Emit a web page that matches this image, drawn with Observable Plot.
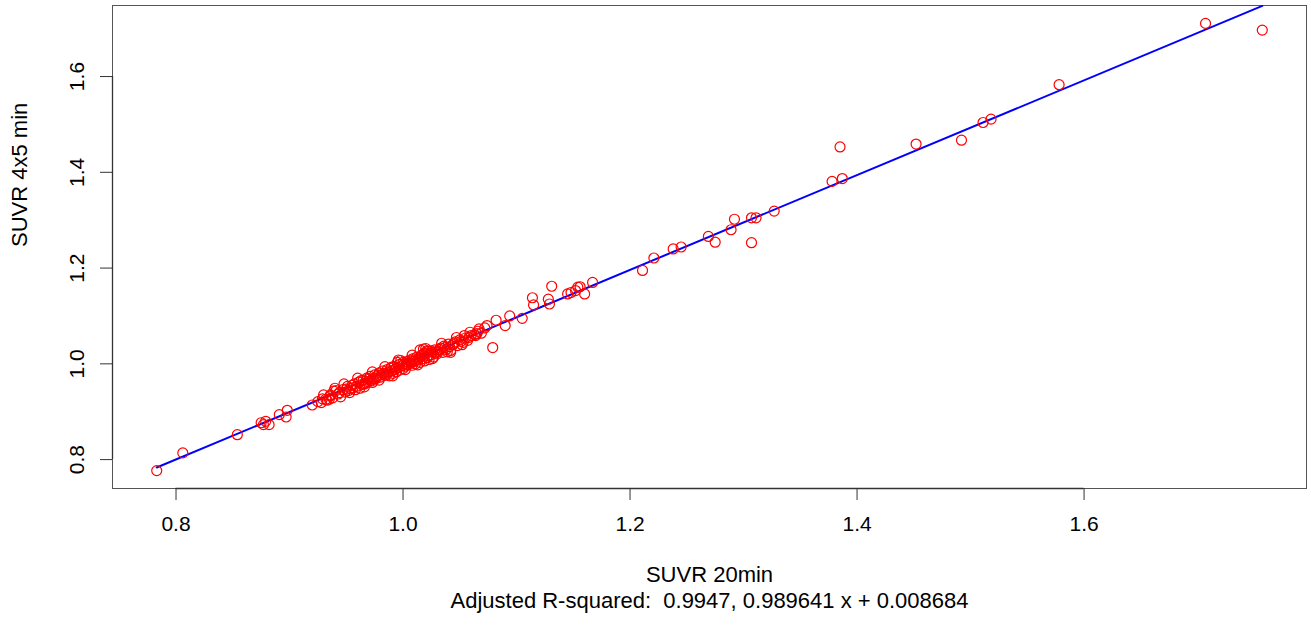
<!DOCTYPE html>
<html>
<head>
<meta charset="utf-8">
<script src="https://cdn.jsdelivr.net/npm/d3@7"></script>
<script src="https://cdn.jsdelivr.net/npm/@observablehq/plot@0.6"></script>
<style>
  html, body { margin: 0; padding: 0; background: #fff; }
  #chart { width: 1311px; height: 630px; }
</style>
</head>
<body>
<div id="chart"></div>
<script>
// ---- Data ----
const suvr20min = [
  0.783, 0.806, 0.854, 0.875, 0.879, 0.882, 0.877, 0.891, 0.898, 0.897, 0.920, 0.928, 0.932, 0.939, 0.936,
  0.925, 0.929, 0.933, 0.936, 0.938, 0.941, 0.943, 0.945, 0.947, 0.949, 0.951, 0.952, 0.954, 0.956, 0.957,
  0.959, 0.961, 0.962, 0.964, 0.965, 0.967, 0.968, 0.969, 0.971, 0.972, 0.973, 0.975, 0.976, 0.977, 0.979,
  0.980, 0.981, 0.982, 0.984, 0.985, 0.986, 0.987, 0.988, 0.989, 0.990, 0.991, 0.992, 0.993, 0.994, 0.995,
  0.996, 0.997, 0.998, 0.999, 1.000, 1.001, 1.002, 1.003, 1.004, 1.006, 1.007, 1.008, 1.009, 1.010, 1.011,
  1.012, 1.013, 1.015, 1.016, 1.017, 1.018, 1.019, 1.020, 1.021, 1.022, 1.023, 1.024, 1.026, 1.027, 1.028,
  1.030, 1.031, 1.033, 1.035, 1.036, 1.038, 1.040, 1.042, 1.044, 1.046, 1.048, 1.050, 1.053, 1.055, 1.057,
  1.060, 1.063, 1.066, 1.069, 1.072,
  0.944, 0.950, 0.955, 0.958, 0.963, 0.966, 0.970, 0.974, 0.978, 0.983, 0.986, 0.990, 0.994, 0.997, 1.000,
  1.003, 1.005, 1.008, 1.011, 1.014, 1.017, 1.019, 1.022, 1.025, 1.029, 1.032, 1.037, 1.041, 1.045, 1.051,
  1.058, 1.065, 1.015, 1.021, 0.972,
  0.948, 0.953, 0.960, 0.966, 0.973, 0.979, 0.984, 0.991, 0.996, 1.002, 1.008, 1.013, 1.020, 1.026, 1.034,
  1.039, 1.047, 1.052, 1.059, 0.940, 0.935, 0.930,
  1.042, 1.054, 1.064, 1.067, 1.074, 1.079, 1.082, 1.090, 1.094, 1.105, 1.114, 1.115, 1.128, 1.129, 1.131,
  1.145, 1.148, 1.152, 1.154, 1.160, 1.156, 1.167, 1.211, 1.221, 1.238, 1.245, 1.269, 1.275, 1.289, 1.292,
  1.307, 1.307, 1.311, 1.327, 1.378, 1.387, 1.385, 1.452, 1.492, 1.511, 1.518, 1.578, 1.707, 1.757
];
const suvr4x5min = [
  0.777, 0.814, 0.852, 0.877, 0.880, 0.873, 0.873, 0.894, 0.903, 0.889, 0.914, 0.919, 0.926, 0.943, 0.933,
  0.921, 0.927, 0.924, 0.935, 0.929, 0.944, 0.937, 0.931, 0.946, 0.941, 0.953, 0.944, 0.948, 0.950, 0.958,
  0.953, 0.962, 0.949, 0.957, 0.966, 0.960, 0.970, 0.963, 0.974, 0.966, 0.961, 0.977, 0.969, 0.973, 0.981,
  0.972, 0.977, 0.985, 0.976, 0.980, 0.988, 0.983, 0.975, 0.991, 0.985, 0.980, 0.994, 0.988, 0.983, 1.003,
  0.992, 0.987, 1.007, 0.996, 0.990, 1.000, 0.995, 1.004, 0.998, 1.008, 1.001, 0.997, 1.011, 1.005, 1.000,
  1.014, 1.008, 1.003, 1.017, 1.011, 1.031, 1.006, 1.021, 1.013, 1.026, 1.009, 1.018, 1.024, 1.014, 1.029,
  1.021, 1.026, 1.033, 1.024, 1.037, 1.030, 1.041, 1.028, 1.040, 1.046, 1.038, 1.050, 1.045, 1.054, 1.049,
  1.059, 1.061, 1.068, 1.064, 1.075,
  0.940, 0.947, 0.955, 0.946, 0.965, 0.958, 0.968, 0.970, 0.976, 0.980, 0.978, 0.993, 0.991, 0.999, 1.003,
  0.999, 1.002, 1.006, 1.009, 1.012, 1.019, 1.023, 1.017, 1.027, 1.024, 1.030, 1.034, 1.036, 1.043, 1.047,
  1.055, 1.063, 1.029, 1.027, 0.964,
  0.958, 0.940, 0.970, 0.952, 0.983, 0.966, 0.994, 0.975, 1.008, 0.988, 1.018, 0.998, 1.032, 1.011, 1.043,
  1.025, 1.055, 1.040, 1.066, 0.949, 0.926, 0.935,
  1.024, 1.059, 1.059, 1.073, 1.080, 1.034, 1.091, 1.080, 1.100, 1.095, 1.138, 1.123, 1.135, 1.125, 1.162,
  1.146, 1.149, 1.153, 1.160, 1.146, 1.161, 1.170, 1.195, 1.221, 1.240, 1.244, 1.266, 1.254, 1.280, 1.302,
  1.305, 1.253, 1.305, 1.319, 1.381, 1.387, 1.453, 1.459, 1.467, 1.504, 1.511, 1.583, 1.711, 1.697
];
const xTicks = [0.8, 1.0, 1.2, 1.4, 1.6];
const yTicks = [0.8, 1.0, 1.2, 1.4, 1.6];
const fitSlope = 0.989641;
const fitIntercept = 0.008684;
const adjRSquared = 0.9947;
const xTitle = "SUVR 20min";
const yTitle = "SUVR 4x5 min";
const fitCaption = `Adjusted R-squared:  ${adjRSquared}, ${fitSlope} x + ${fitIntercept}`;

// ---- Build table ----
const points = suvr20min.map((x, i) => ({x, y: suvr4x5min[i]}));

// R-style 4% domain extension
function extend(vals) {
  const [lo, hi] = d3.extent(vals);
  const r = hi - lo;
  return [lo - 0.04 * r, hi + 0.04 * r];
}
const xDomain = extend(suvr20min);
const yDomain = extend(suvr4x5min);
// fitted line drawn over the range of the data
const fitLine = d3.extent(suvr20min).map(x => ({x, y: fitIntercept + fitSlope * x}));
const fmt = d3.format(".1f");
const FS = 21;
const TS = 22;

const chart = Plot.plot({
  width: 1311,
  height: 630,
  marginLeft: 112,
  marginRight: 5,
  marginTop: 5,
  marginBottom: 142,
  style: {fontFamily: "'Liberation Sans', Arial, sans-serif", fontSize: FS + "px", background: "#fff", color: "#000"},
  x: {domain: xDomain, label: null},
  y: {domain: yDomain, label: null},
  marks: [
    Plot.frame({stroke: "#555", strokeWidth: 1}),
    Plot.ruleY([yDomain[0]], {x1: xTicks[0], x2: xTicks[xTicks.length - 1], stroke: "#333", strokeWidth: 1.3}),
    Plot.ruleX([xDomain[0]], {y1: yTicks[0], y2: yTicks[yTicks.length - 1], stroke: "#333", strokeWidth: 1.3}),
    Plot.axisX({ticks: xTicks, tickFormat: fmt, tickSize: 12, tickPadding: 16, stroke: "#333", fontSize: FS, label: null}),
    Plot.axisY({ticks: yTicks, tickFormat: fmt, tickSize: 12, tickPadding: 17, tickRotate: -90,
      textAnchor: "middle", lineAnchor: "bottom", stroke: "#333", fontSize: FS, label: null}),
    Plot.line(fitLine, {x: "x", y: "y", stroke: "#0000ff", strokeWidth: 2, clip: true}),
    Plot.dot(points, {x: "x", y: "y", r: 5, stroke: "#ff0000", strokeWidth: 1.2, fill: "none"}),
    Plot.text([xTitle], {text: d => d, frameAnchor: "bottom", dy: 93, fontSize: TS, fill: "#000"}),
    Plot.text([fitCaption], {text: d => d, frameAnchor: "bottom", dy: 119, fontSize: TS, fill: "#000"}),
    Plot.text([yTitle], {text: d => d, frameAnchor: "left", rotate: -90, dx: -93, fontSize: TS, fill: "#000"})
  ]
});
document.getElementById("chart").appendChild(chart);
</script>
</body>
</html>
